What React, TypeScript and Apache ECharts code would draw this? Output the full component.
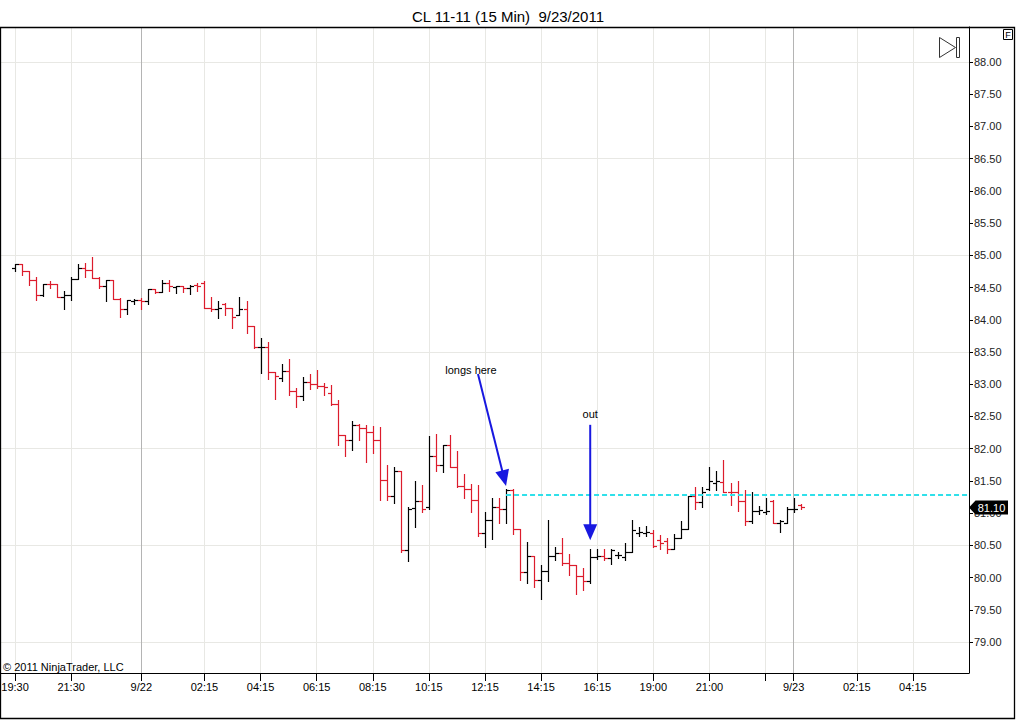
import React, { useEffect, useRef } from "react";
import * as echarts from "echarts";

const titleText = "CL 11-11 (15 Min)  9/23/2011";
const copyrightText = "© 2011 NinjaTrader, LLC";

// Axis span (15-minute slots, session break 17:15 -> 18:15 skipped)
const axisStart = "9/21 19:00";
const axisEnd = "9/23 06:15";
const sessionDays = ["9/21", "9/22", "9/23"];
const breakAfter = "17:15";
const breakUntil = "18:15";

const xTickTimes = [
  "9/21 19:30", "9/21 21:30", "9/22 00:00", "9/22 02:15", "9/22 04:15", "9/22 06:15",
  "9/22 08:15", "9/22 10:15", "9/22 12:15", "9/22 14:15", "9/22 16:15", "9/22 19:00",
  "9/22 21:00", "9/22 23:00", "9/23 00:00", "9/23 02:15", "9/23 04:15",
];
const xUnlabeledTicks = ["9/22 23:00"];
const daySeparators = ["9/22 00:00", "9/23 00:00"];

const yTickValues = [79, 79.5, 80, 80.5, 81, 81.5, 82, 82.5, 83, 83.5, 84, 84.5, 85, 85.5, 86, 86.5, 87, 87.5, 88];
const yGridLevels = [79, 80.5, 82, 83.5, 85, 86.5, 88];
const yMin = 78.519;
const yMax = 88.543;

// OHLC bars, consecutive 15-min bars starting at firstBarTime
const firstBarTime = "9/21 19:30";
const opens = [
  84.80, 84.86, 84.75, 84.61, 84.39, 84.56, 84.55, 84.36, 84.39, 84.64,
  84.81, 84.77, 84.65, 84.52, 84.61, 84.33, 84.16, 84.29, 84.31, 84.29,
  84.47, 84.43, 84.57, 84.51, 84.52, 84.50, 84.54, 84.57, 84.19, 84.17,
  84.25, 84.18, 84.08, 84.16, 83.91, 83.57, 83.58, 83.19, 83.09, 83.21,
  82.90, 82.82, 83.04, 83.00, 82.97, 82.86, 82.69, 82.21, 82.14, 82.37,
  82.32, 82.26, 82.14, 81.52, 81.27, 81.66, 80.42, 81.08, 81.19, 81.09,
  81.88, 81.75, 82.06, 81.72, 81.42, 81.37, 81.21, 80.69, 80.90, 81.10,
  81.06, 81.36, 80.75, 80.08, 80.33, 79.96, 80.10, 80.34, 80.38, 80.22,
  80.20, 80.03, 79.95, 80.32, 80.34, 80.30, 80.35, 80.32, 80.40, 80.69,
  80.69, 80.69, 80.58, 80.56, 80.45, 80.62, 80.76, 81.26, 81.18, 81.38,
  81.46, 81.49, 81.33, 81.32, 81.19, 80.88, 81.04, 81.02, 81.19, 80.85,
  80.85, 81.06, 81.12,
];
const highs = [
  84.87, 84.87, 84.76, 84.67, 84.56, 84.60, 84.56, 84.45, 84.66, 84.86,
  84.88, 84.98, 84.66, 84.62, 84.62, 84.34, 84.31, 84.33, 84.34, 84.48,
  84.48, 84.62, 84.62, 84.53, 84.53, 84.54, 84.57, 84.60, 84.35, 84.29,
  84.26, 84.19, 84.35, 84.29, 83.91, 83.71, 83.66, 83.19, 83.32, 83.39,
  82.94, 83.11, 83.16, 83.22, 83.02, 82.99, 82.75, 82.21, 82.43, 82.39,
  82.37, 82.35, 82.33, 81.75, 81.71, 81.66, 81.10, 81.50, 81.43, 82.20,
  82.23, 82.06, 82.21, 81.97, 81.61, 81.45, 81.44, 81.02, 81.23, 81.23,
  81.37, 81.38, 80.75, 80.55, 80.33, 80.20, 80.89, 80.48, 80.61, 80.36,
  80.20, 80.15, 80.45, 80.44, 80.44, 80.44, 80.40, 80.54, 80.89, 80.78,
  80.80, 80.74, 80.66, 80.61, 80.68, 80.87, 81.26, 81.41, 81.41, 81.72,
  81.66, 81.82, 81.47, 81.50, 81.36, 81.32, 81.11, 81.23, 81.20, 80.90,
  81.09, 81.23, 81.14,
];
const lows = [
  84.76, 84.69, 84.54, 84.30, 84.37, 84.50, 84.36, 84.16, 84.30, 84.63,
  84.67, 84.65, 84.50, 84.29, 84.33, 84.05, 84.09, 84.25, 84.17, 84.24,
  84.41, 84.43, 84.44, 84.41, 84.43, 84.40, 84.44, 84.19, 84.14, 84.02,
  84.07, 83.88, 84.08, 83.79, 83.56, 83.17, 83.08, 82.77, 83.05, 82.83,
  82.64, 82.75, 82.92, 82.94, 82.83, 82.68, 82.06, 81.88, 81.98, 82.13,
  81.80, 81.94, 81.20, 81.20, 81.15, 80.40, 80.25, 80.79, 81.02, 81.07,
  81.66, 81.64, 81.71, 81.40, 81.23, 81.02, 80.64, 80.47, 80.60, 80.85,
  80.84, 80.67, 79.96, 79.91, 79.86, 79.66, 79.94, 80.27, 80.20, 80.04,
  79.74, 79.81, 79.91, 80.29, 80.27, 80.21, 80.30, 80.27, 80.40, 80.65,
  80.65, 80.47, 80.45, 80.38, 80.44, 80.61, 80.76, 81.07, 81.10, 81.36,
  81.36, 81.32, 81.13, 81.04, 80.82, 80.85, 80.99, 80.99, 80.84, 80.71,
  80.84, 81.02, 81.07,
];
const closes = [
  84.86, 84.75, 84.61, 84.39, 84.56, 84.55, 84.36, 84.39, 84.64, 84.81,
  84.77, 84.65, 84.52, 84.61, 84.33, 84.16, 84.30, 84.30, 84.29, 84.48,
  84.43, 84.57, 84.52, 84.52, 84.50, 84.53, 84.52, 84.19, 84.17, 84.19,
  84.18, 84.05, 84.16, 83.91, 83.57, 83.58, 83.19, 83.12, 83.21, 82.90,
  82.82, 83.04, 83.01, 82.97, 82.95, 82.69, 82.21, 82.13, 82.37, 82.32,
  82.26, 82.14, 81.52, 81.27, 81.66, 80.42, 81.06, 81.19, 81.07, 81.88,
  81.75, 82.06, 81.72, 81.42, 81.37, 81.21, 80.69, 80.90, 81.10, 81.06,
  81.36, 80.75, 80.08, 80.33, 79.96, 80.10, 80.34, 80.38, 80.22, 80.20,
  80.03, 79.95, 80.32, 80.34, 80.30, 80.42, 80.35, 80.40, 80.74, 80.70,
  80.70, 80.49, 80.53, 80.45, 80.62, 80.76, 81.26, 81.18, 81.33, 81.50,
  81.50, 81.33, 81.32, 81.19, 80.88, 81.04, 81.05, 81.04, 80.85, 80.88,
  81.06, 81.07, 81.10,
];

// Entry level line and annotations (data units)
const entryLevel = 81.28;
const entryTime = "9/22 13:00";
const annotations = [
  { text: "longs here", textAt: ["9/22 11:45", 83.22], from: ["9/22 12:00", 83.16], tip: ["9/22 13:00", 81.42] },
  { text: "out", textAt: ["9/22 16:00", 82.54], from: ["9/22 16:00", 82.37], tip: ["9/22 16:00", 80.58] },
];

const FONT = "'Liberation Sans', Arial, sans-serif";
const upColor = "#000000";
const downColor = "#dc1c2c";

function pad(n: number) {
  return n < 10 ? "0" + n : "" + n;
}
function toMin(hm: string) {
  const [h, m] = hm.split(":").map(Number);
  return h * 60 + m;
}
function buildCategories(): string[] {
  const out: string[] = [];
  const [d0, t0] = axisStart.split(" ");
  let d = sessionDays.indexOf(d0);
  let m = toMin(t0);
  const bA = toMin(breakAfter);
  const bU = toMin(breakUntil);
  for (let guard = 0; guard < 1000; guard++) {
    const label = `${sessionDays[d]} ${pad(Math.floor(m / 60))}:${pad(m % 60)}`;
    if (!(m > bA && m < bU)) out.push(label);
    if (label === axisEnd) break;
    m += 15;
    if (m >= 1440) {
      m -= 1440;
      d++;
    }
  }
  return out;
}

const categories = buildCategories();

export default function App() {
  const ref = useRef<HTMLDivElement>(null);

  useEffect(() => {
    if (!ref.current) return;
    const chart = echarts.init(ref.current, null, { renderer: "svg" });
    const startIdx = categories.indexOf(firstBarTime);
    const barData = opens.map((o, i) => [startIdx + i, o, closes[i], lows[i], highs[i]]);
    const tickSet = new Set(xTickTimes);
    const unl = new Set(xUnlabeledTicks);
    const lastClose = closes[closes.length - 1];

    const option: any = {
      animation: false,
      backgroundColor: "#ffffff",
      title: {
        text: titleText,
        left: "center",
        top: 4,
        textStyle: { fontSize: 15, fontWeight: "normal", color: "#000", fontFamily: FONT },
      },
      grid: { left: 1, top: 27, width: 968, height: 646, containLabel: false, outerBoundsMode: "none" },
      xAxis: {
        type: "category",
        data: categories,
        boundaryGap: false,
        axisLine: { show: true, lineStyle: { color: "#000", width: 1 } },
        axisTick: {
          show: true,
          length: 8,
          interval: (i: number, v: string) => tickSet.has(v),
          lineStyle: { color: "#000" },
        },
        axisLabel: {
          interval: (i: number, v: string) => tickSet.has(v) && !unl.has(v),
          margin: 8,
          fontSize: 11,
          color: "#000",
          fontFamily: FONT,
          formatter: (v: string) => {
            const [d, t] = v.split(" ");
            return t === "00:00" ? d : t;
          },
        },
        splitLine: {
          show: true,
          interval: (i: number, v: string) => tickSet.has(v),
          lineStyle: { color: "#e8e8e4", width: 1 },
        },
      },
      yAxis: {
        type: "value",
        position: "right",
        min: yMin,
        max: yMax,
        axisLine: { show: true, lineStyle: { color: "#000", width: 1 } },
        axisTick: { show: true, length: 4, customValues: yTickValues, lineStyle: { color: "#000" } },
        axisLabel: {
          customValues: yTickValues,
          margin: 5,
          fontSize: 11,
          color: "#222",
          fontFamily: FONT,
          formatter: (v: number) => v.toFixed(2),
        },
        splitLine: { show: false },
      },
      series: [
        {
          type: "line",
          data: [],
          silent: true,
          markLine: {
            silent: true,
            z: 1,
            symbol: ["none", "none"],
            label: { show: false },
            data: [
              ...yGridLevels.map((v) => ({ yAxis: v, lineStyle: { color: "#e8e8e4", width: 1, type: "solid" } })),
              ...daySeparators.map((t) => ({ xAxis: t, lineStyle: { color: "#b4b4b4", width: 1, type: "solid" } })),
            ],
          },
        },
        {
          type: "custom",
          z: 2,
          data: barData,
          encode: { x: 0, y: [1, 2, 3, 4] },
          renderItem: (params: any, api: any) => {
            const idx = api.value(0);
            const o = api.value(1);
            const c = api.value(2);
            const l = api.value(3);
            const h = api.value(4);
            const po = api.coord([idx, o]);
            const x = Math.round(po[0]) + 0.5;
            const yo = Math.round(po[1]) + 0.5;
            const yc = Math.round(api.coord([idx, c])[1]) + 0.5;
            const yl = Math.round(api.coord([idx, l])[1]) + 1;
            const yh = Math.round(api.coord([idx, h])[1]);
            const color = c < o ? downColor : upColor;
            const st = { stroke: color, lineWidth: 1.2 };
            return {
              type: "group",
              children: [
                { type: "line", shape: { x1: x, y1: yh, x2: x, y2: yl }, style: st },
                { type: "line", shape: { x1: x - 3.5, y1: yo, x2: x, y2: yo }, style: st },
                { type: "line", shape: { x1: x, y1: yc, x2: x + 3.5, y2: yc }, style: st },
              ],
            };
          },
          markLine: {
            silent: true,
            z: 5,
            symbol: ["none", "none"],
            label: { show: false },
            lineStyle: { color: "#2fe0ea", width: 2, type: [5, 3] },
            data: [[{ coord: [categories.indexOf(entryTime), entryLevel] }, { coord: [categories.length - 1, entryLevel] }]],
          },
        },
      ],
    };
    chart.setOption(option);

    const px = (p: any[]) =>
      chart.convertToPixel({ gridIndex: 0 }, [categories.indexOf(p[0] as string), p[1] as number]) as number[];

    const graphics: any[] = [];
    // outer frame
    graphics.push({
      type: "rect",
      z: 100,
      silent: true,
      shape: { x: 0.5, y: 27.5, width: 1014, height: 691 },
      style: { fill: "none", stroke: "#000", lineWidth: 1.3 },
    });
    // copyright
    graphics.push({
      type: "text",
      z: 100,
      style: { text: copyrightText, x: 3, y: 667, fill: "#000", font: `11px ${FONT}`, textVerticalAlign: "middle" },
    });
    // F box
    graphics.push({
      type: "rect",
      z: 100,
      shape: { x: 1003.5, y: 29.5, width: 9, height: 10 },
      style: { fill: "#fff", stroke: "#000", lineWidth: 1 },
    });
    graphics.push({
      type: "text",
      z: 101,
      style: { text: "F", x: 1008, y: 35, fill: "#000", font: `9px ${FONT}`, textAlign: "center", textVerticalAlign: "middle" },
    });
    // play-to-end icon
    graphics.push({
      type: "polygon",
      z: 100,
      shape: { points: [[939.5, 37.5], [955.5, 47.5], [939.5, 57.5]] },
      style: { fill: "none", stroke: "#333", lineWidth: 1 },
    });
    graphics.push({
      type: "rect",
      z: 100,
      shape: { x: 956.5, y: 37.5, width: 3, height: 20 },
      style: { fill: "none", stroke: "#333", lineWidth: 1 },
    });
    // annotations
    annotations.forEach((a) => {
      const t = px(a.textAt);
      const f = px(a.from);
      const tip = px(a.tip);
      const dx = tip[0] - f[0];
      const dy = tip[1] - f[1];
      const len = Math.sqrt(dx * dx + dy * dy) || 1;
      const ux = dx / len;
      const uy = dy / len;
      const headL = 16;
      const headW = 7;
      const bx = tip[0] - ux * headL;
      const by = tip[1] - uy * headL;
      graphics.push({
        type: "text",
        z: 60,
        style: { text: a.text, x: t[0], y: t[1], fill: "#000", font: `11px ${FONT}`, textAlign: "center", textVerticalAlign: "middle" },
      });
      graphics.push({
        type: "line",
        z: 60,
        shape: { x1: f[0], y1: f[1], x2: bx + ux * 2, y2: by + uy * 2 },
        style: { stroke: "#1818e0", lineWidth: 2 },
      });
      graphics.push({
        type: "polygon",
        z: 60,
        shape: {
          points: [
            [tip[0], tip[1]],
            [bx - uy * headW, by + ux * headW],
            [bx + uy * headW, by - ux * headW],
          ],
        },
        style: { fill: "#1818e0", stroke: "none" },
      });
    });
    // last price tag
    const py = Math.round(px([categories[0], lastClose])[1]) + 0.5;
    graphics.push({
      type: "polygon",
      z: 110,
      shape: { points: [[969, py], [975.5, py - 7], [1008, py - 7], [1008, py + 7], [975.5, py + 7]] },
      style: { fill: "#000", stroke: "none" },
    });
    graphics.push({
      type: "text",
      z: 111,
      style: {
        text: lastClose.toFixed(2),
        x: 991.5,
        y: py,
        fill: "#fff",
        font: `11px ${FONT}`,
        textAlign: "center",
        textVerticalAlign: "middle",
      },
    });
    chart.setOption({ graphic: graphics });

    return () => chart.dispose();
  }, []);

  return (
    <div
      ref={ref}
      style={{ position: "absolute", left: 0, top: 0, width: 1016, height: 720, background: "#fff" }}
    />
  );
}
